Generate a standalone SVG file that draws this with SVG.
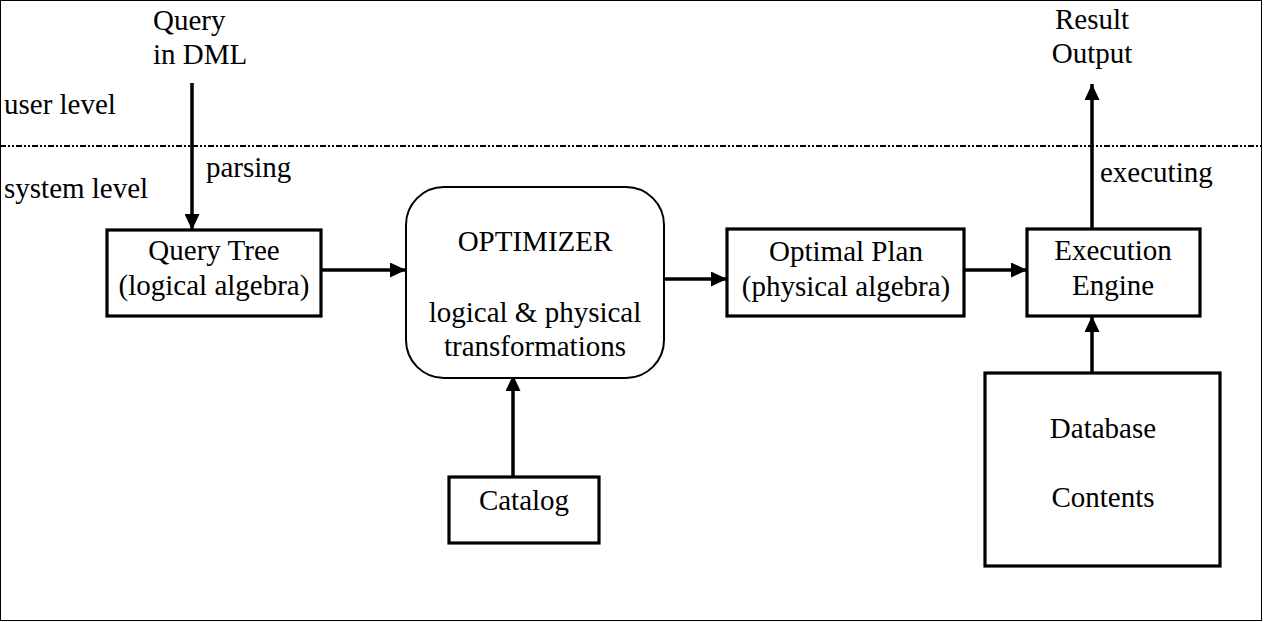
<svg xmlns="http://www.w3.org/2000/svg" width="1264" height="622" viewBox="0 0 1264 622">
  <style>
    text { font-family: "Liberation Serif", "Times New Roman", serif; font-size: 29px; fill: #000; }
    .c { text-anchor: middle; }
    .box { fill: #fff; stroke: #000; stroke-width: 3.2; }
    .rbox { fill: #fff; stroke: #000; stroke-width: 2; }
    .edge { fill: none; stroke: #000; stroke-width: 3.5; marker-end: url(#arrow); }
  </style>
  <defs>
    <marker id="arrow" markerUnits="userSpaceOnUse" markerWidth="17" markerHeight="15" refX="16" refY="7.5" orient="auto">
      <path d="M0,0 L16,7.5 L0,15 Z" fill="#000"/>
    </marker>
  </defs>
  <rect x="0.5" y="0.5" width="1261" height="620" fill="#fff" stroke="#000" stroke-width="1"/>
  <line x1="0" y1="146" x2="1262" y2="146" stroke="#000" stroke-width="1.8" stroke-dasharray="6 2 2 2 2 2"/>
  <g id="labels">
    <text x="153" y="30">Query</text>
    <text x="153" y="64">in DML</text>
    <text x="4" y="114">user level</text>
    <text x="4" y="198">system level</text>
    <text x="206" y="177">parsing</text>
    <text x="1092" y="29" class="c">Result</text>
    <text x="1092" y="63" class="c">Output</text>
    <text x="1100" y="182">executing</text>
  </g>
  <g id="connectors">
    <line class="edge" x1="192" y1="83" x2="192" y2="230"/>
    <line class="edge" x1="322" y1="270" x2="406" y2="270"/>
    <line class="edge" x1="662" y1="279" x2="727" y2="279"/>
    <line class="edge" x1="965" y1="270" x2="1027" y2="270"/>
    <line class="edge" x1="1092" y1="229" x2="1092" y2="84"/>
    <line class="edge" x1="513" y1="477" x2="513" y2="375"/>
    <line class="edge" x1="1092" y1="373" x2="1092" y2="316"/>
  </g>
  <g id="query-tree">
    <rect class="box" x="107" y="230" width="214" height="86"/>
    <text x="214" y="260" class="c">Query Tree</text>
    <text x="214" y="295" class="c">(logical algebra)</text>
  </g>
  <g id="optimizer">
    <rect class="rbox" x="406" y="187" width="258" height="191" rx="38" ry="38"/>
    <text x="535" y="251" class="c">OPTIMIZER</text>
    <text x="535" y="322" class="c">logical &amp; physical</text>
    <text x="535" y="356" class="c">transformations</text>
  </g>
  <g id="optimal-plan">
    <rect class="box" x="727" y="229" width="237" height="87"/>
    <text x="846" y="261" class="c">Optimal Plan</text>
    <text x="846" y="296" class="c">(physical algebra)</text>
  </g>
  <g id="execution-engine">
    <rect class="box" x="1027" y="229" width="173" height="87"/>
    <text x="1113" y="260" class="c">Execution</text>
    <text x="1113" y="295" class="c">Engine</text>
  </g>
  <g id="catalog">
    <rect class="box" x="449" y="477" width="150" height="66"/>
    <text x="524" y="510" class="c">Catalog</text>
  </g>
  <g id="database">
    <rect class="box" x="985" y="373" width="235" height="193"/>
    <text x="1103" y="438" class="c">Database</text>
    <text x="1103" y="507" class="c">Contents</text>
  </g>
</svg>
